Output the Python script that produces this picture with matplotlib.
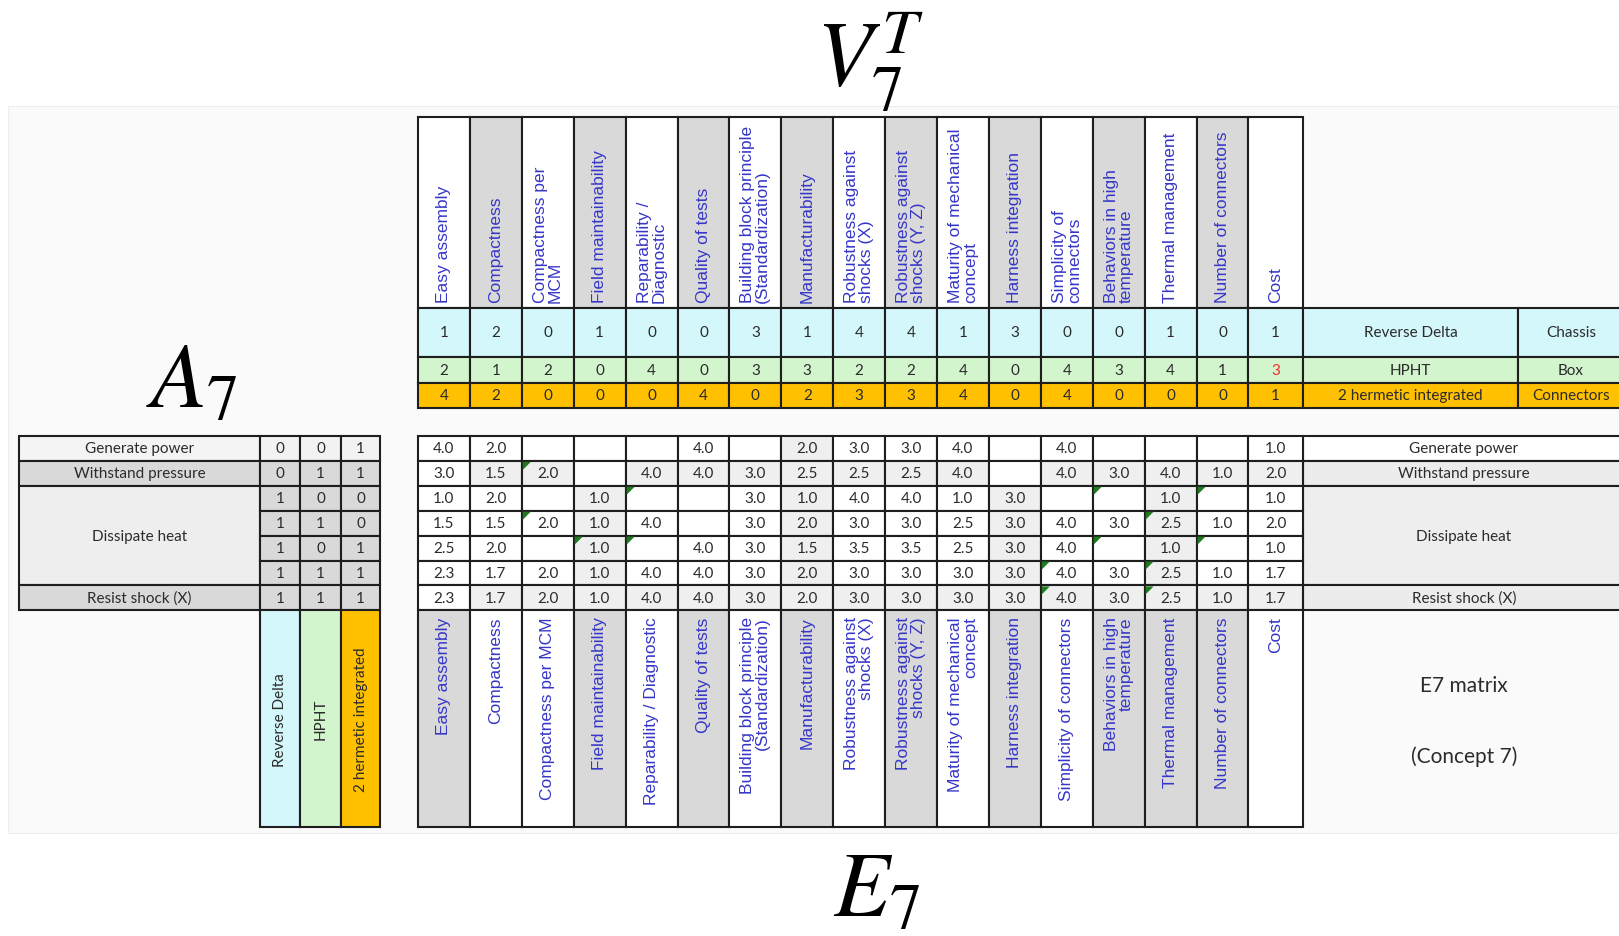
"""E7 matrix (concept 7) laid out as V7^T / A7 / E7 tables
"""
import matplotlib.pyplot as plt
from matplotlib.patches import Rectangle, Polygon

plt.rcParams['mathtext.fontset'] = 'stix'

# ---- data ----
criteria_top = [
    "Easy assembly", "Compactness", "Compactness per\nMCM", "Field maintainability",
    "Reparability /\nDiagnostic", "Quality of tests",
    "Building block principle\n(Standardization)", "Manufacturability",
    "Robustness against\nshocks (X)", "Robustness against\nshocks (Y, Z)",
    "Maturity of mechanical\nconcept", "Harness integration", "Simplicity of\nconnectors",
    "Behaviors in high\ntemperature", "Thermal management", "Number of connectors", "Cost",
]
criteria_bottom = [
    "Easy assembly", "Compactness", "Compactness per MCM", "Field maintainability",
    "Reparability / Diagnostic", "Quality of tests",
    "Building block principle\n(Standardization)", "Manufacturability",
    "Robustness against\nshocks (X)", "Robustness against\nshocks (Y, Z)",
    "Maturity of mechanical\nconcept", "Harness integration", "Simplicity of connectors",
    "Behaviors in high\ntemperature", "Thermal management", "Number of connectors", "Cost",
]
concepts = ["Reverse Delta", "HPHT", "2 hermetic integrated"]
concept_parts = ["Chassis", "Box", "Connectors"]

v7_reverse_delta = [1, 2, 0, 1, 0, 0, 3, 1, 4, 4, 1, 3, 0, 0, 1, 0, 1]
v7_hpht = [2, 1, 2, 0, 4, 0, 3, 3, 2, 2, 4, 0, 4, 3, 4, 1, 3]
v7_hermetic = [4, 2, 0, 0, 0, 4, 0, 2, 3, 3, 4, 0, 4, 0, 0, 0, 1]

functions = ["Generate power", "Withstand pressure", "Dissipate heat", "Resist shock (X)"]
function_rows = [1, 1, 4, 1]

a7 = [
    [0, 0, 1],
    [0, 1, 1],
    [1, 0, 0],
    [1, 1, 0],
    [1, 0, 1],
    [1, 1, 1],
    [1, 1, 1],
]

N = None
e7 = [
    [4.0, 2.0, N, N, N, 4.0, N, 2.0, 3.0, 3.0, 4.0, N, 4.0, N, N, N, 1.0],
    [3.0, 1.5, 2.0, N, 4.0, 4.0, 3.0, 2.5, 2.5, 2.5, 4.0, N, 4.0, 3.0, 4.0, 1.0, 2.0],
    [1.0, 2.0, N, 1.0, N, N, 3.0, 1.0, 4.0, 4.0, 1.0, 3.0, N, N, 1.0, N, 1.0],
    [1.5, 1.5, 2.0, 1.0, 4.0, N, 3.0, 2.0, 3.0, 3.0, 2.5, 3.0, 4.0, 3.0, 2.5, 1.0, 2.0],
    [2.5, 2.0, N, 1.0, N, 4.0, 3.0, 1.5, 3.5, 3.5, 2.5, 3.0, 4.0, N, 1.0, N, 1.0],
    [2.3, 1.7, 2.0, 1.0, 4.0, 4.0, 3.0, 2.0, 3.0, 3.0, 3.0, 3.0, 4.0, 3.0, 2.5, 1.0, 1.7],
    [2.3, 1.7, 2.0, 1.0, 4.0, 4.0, 3.0, 2.0, 3.0, 3.0, 3.0, 3.0, 4.0, 3.0, 2.5, 1.0, 1.7],
]
comment_cells = [(1, 2), (2, 4), (3, 2), (4, 3), (4, 4), (2, 13), (2, 15), (3, 14),
                 (4, 13), (4, 15), (5, 12), (5, 14), (6, 12), (6, 14)]
red_cells = [(1, 16)]

# ---- layout / style ----
EDGE = "#1e1e1e"
GRAY = "#d9d9d9"
LGRAY = "#efefef"
ROW_COLORS = ["#d3f7fb", "#d3f5cd", "#ffc000"]
BLUE = "#3636c8"
TXT = "#2b2b2b"
NUM_FONT = "Lato"
HDR_FONT = "Liberation Sans"
HDR_SIZE = 12.5

col_x = [418 + 51.9 * i for i in range(17)] + [1303]
top_y0, top_y1 = 118, 309
v_rows_y = [309, 358, 384, 409]
data_y = [437 + 24.9 * i for i in range(8)]
bot_y0, bot_y1 = data_y[-1], 828
a_x = [19, 260, 300, 341, 380]
right_x = [1303, 1518, 1640]

top_gray = [i % 2 == 1 for i in range(17)]
bot_gray = [True, False, False, True, False, True, False, True, False, True,
            False, True, False, True, True, True, False]

fig = plt.figure(figsize=(16.19, 9.37), dpi=100)
ax = fig.add_axes([0, 0, 1, 1])
ax.set_xlim(0, 1619)
ax.set_ylim(937, 0)
ax.axis("off")


def cell(x0, y0, x1, y1, fc, lw=1.5):
    ax.add_patch(Rectangle((x0, y0), x1 - x0, y1 - y0, facecolor=fc,
                           edgecolor=EDGE, lw=lw))


# faint screenshot panel
ax.add_patch(Rectangle((8, 107), 1620, 727, facecolor="#fafafa",
                       edgecolor="#eeeeee", lw=0.8))

# V7^T: header row of criteria
for j, lab in enumerate(criteria_top):
    x0, x1 = col_x[j], col_x[j + 1]
    cell(x0, top_y0, x1, top_y1, GRAY if top_gray[j] else "white")
    ax.text((x0 + x1) / 2, top_y1 - 6, lab, rotation=90, rotation_mode="anchor",
            ha="left", va="center", multialignment="left", color=BLUE,
            fontsize=HDR_SIZE, family=HDR_FONT, linespacing=1.0)

# V7^T: concept rows
for r, vals in enumerate([v7_reverse_delta, v7_hpht, v7_hermetic]):
    y0, y1 = v_rows_y[r], v_rows_y[r + 1]
    for j, v in enumerate(vals):
        cell(col_x[j], y0, col_x[j + 1], y1, ROW_COLORS[r])
        color = "#e8322a" if (r, j) in red_cells else TXT
        ax.text((col_x[j] + col_x[j + 1]) / 2, (y0 + y1) / 2, str(v),
                ha="center", va="center", fontsize=11, family=NUM_FONT, color=color)
    cell(right_x[0], y0, right_x[1], y1, ROW_COLORS[r])
    cell(right_x[1], y0, right_x[2], y1, ROW_COLORS[r])
    ax.text((right_x[0] + right_x[1]) / 2, (y0 + y1) / 2, concepts[r],
            ha="center", va="center", fontsize=11, family=NUM_FONT, color=TXT)
    ax.text(1571, (y0 + y1) / 2, concept_parts[r],
            ha="center", va="center", fontsize=11, family=NUM_FONT, color=TXT)

# A7: function labels (merged cells) and values
label_fc = ["#f4f4f4", GRAY, "#eeeeee", GRAY]
right_fc = ["white", "#ececec", "#eeeeee", "#ececec"]
row = 0
for k, lab in enumerate(functions):
    y0, y1 = data_y[row], data_y[row + function_rows[k]]
    cell(a_x[0], y0, a_x[1], y1, label_fc[k])
    ax.text((a_x[0] + a_x[1]) / 2, (y0 + y1) / 2, lab, ha="center", va="center",
            fontsize=11, family=NUM_FONT, color=TXT)
    cell(right_x[0], y0, 1640, y1, right_fc[k])
    ax.text(1464, (y0 + y1) / 2, lab, ha="center", va="center",
            fontsize=11, family=NUM_FONT, color=TXT)
    row += function_rows[k]

for i, vals in enumerate(a7):
    y0, y1 = data_y[i], data_y[i + 1]
    for c, v in enumerate(vals):
        cell(a_x[c + 1], y0, a_x[c + 2], y1, "#f2f2f2" if i == 0 else GRAY)
        ax.text((a_x[c + 1] + a_x[c + 2]) / 2, (y0 + y1) / 2, str(v),
                ha="center", va="center", fontsize=11, family=NUM_FONT, color=TXT)

# A7: concept columns below
for c, lab in enumerate(concepts):
    x0, x1 = a_x[c + 1], a_x[c + 2]
    cell(x0, bot_y0, x1, bot_y1, ROW_COLORS[c])
    ax.text((x0 + x1) / 2, (bot_y0 + bot_y1) / 2, lab, rotation=90,
            ha="center", va="center", fontsize=11, family=NUM_FONT, color=TXT)

# E7 values
for i, vals in enumerate(e7):
    y0, y1 = data_y[i], data_y[i + 1]
    for j, v in enumerate(vals):
        x0, x1 = col_x[j], col_x[j + 1]
        shaded = v is not None and j > 0 and (i in (1, 6) or j in (3, 7, 11, 14))
        cell(x0, y0, x1, y1, LGRAY if shaded else "white")
        if (i, j) in comment_cells:
            ax.add_patch(Polygon([(x0 + 1, y0 + 1), (x0 + 9, y0 + 1), (x0 + 1, y0 + 9)],
                                 closed=True, facecolor="#1f7a1f", edgecolor="none"))
        if v is not None:
            ax.text((x0 + x1) / 2, (y0 + y1) / 2, f"{v:.1f}", ha="center", va="center",
                    fontsize=11, family=NUM_FONT, color=TXT)

# E7: criteria below
for j, lab in enumerate(criteria_bottom):
    x0, x1 = col_x[j], col_x[j + 1]
    cell(x0, bot_y0, x1, bot_y1, GRAY if bot_gray[j] else "white")
    ax.text((x0 + x1) / 2, bot_y0 + 6, lab, rotation=90, rotation_mode="anchor",
            ha="right", va="center", multialignment="right", color=BLUE,
            fontsize=HDR_SIZE, family=HDR_FONT, linespacing=1.0)

# right-bottom caption
ax.text(1464, 686, "E7 matrix", ha="center", va="center", fontsize=15,
        family=NUM_FONT, color=TXT)
ax.text(1464, 757, "(Concept 7)", ha="center", va="center", fontsize=15,
        family=NUM_FONT, color=TXT)

# matrix names
ax.text(870, 86, r"$V_7^T$", ha="center", va="baseline", fontsize=66, color="black")
ax.text(192, 408, r"$A_7$", ha="center", va="baseline", fontsize=66, color="black")
ax.text(876, 917, r"$E_7$", ha="center", va="baseline", fontsize=66, color="black")

plt.savefig("out.png", dpi=100)
